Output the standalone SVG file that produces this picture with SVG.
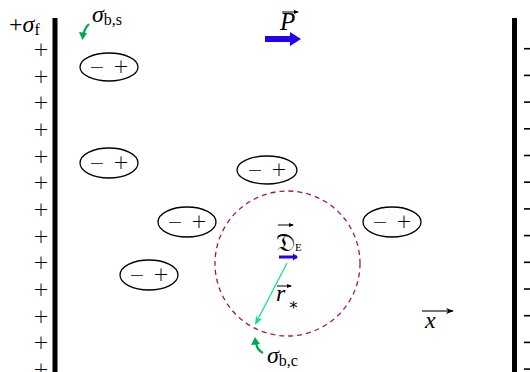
<svg xmlns="http://www.w3.org/2000/svg" width="530" height="372" viewBox="0 0 530 372">
<style>
.t{font-family:"Liberation Serif","DejaVu Serif",serif;fill:#000}
.it{font-style:italic}
.pm{font-family:"DejaVu Sans","Liberation Sans",sans-serif;font-weight:200;font-size:19px;text-anchor:middle}
.dip ellipse{fill:none;stroke:#000;stroke-width:1.3}
.dip text{font-family:"DejaVu Sans","Liberation Sans",sans-serif;font-weight:200;font-size:19px;text-anchor:middle}
</style>
<defs>
<marker id="ah" viewBox="0 0 10 10" refX="9" refY="5" markerWidth="8" markerHeight="8" markerUnits="userSpaceOnUse" orient="auto"><path d="M0,1 L10,5 L0,9 L3,5 Z" fill="#000"/></marker>
<marker id="ahg" viewBox="0 0 10 10" refX="9" refY="5" markerWidth="9" markerHeight="9" markerUnits="userSpaceOnUse" orient="auto"><path d="M0,1 L10,5 L0,9 L3,5 Z" fill="#00e676"/></marker>
<marker id="ahs" viewBox="0 0 10 10" refX="8" refY="5" markerWidth="5" markerHeight="5" markerUnits="userSpaceOnUse" orient="auto"><path d="M0,1 L10,5 L0,9 Z" fill="#000"/></marker>
</defs>

<g id="plate-left">
<rect x="52.5" y="18" width="5" height="354" fill="#000"/>
<text class="t" x="9" y="32" font-size="24">+<tspan class="it">σ</tspan><tspan font-size="16" dy="3">f</tspan></text>
<text class="pm" x="41" y="56">+</text>
<text class="pm" x="41" y="82.5">+</text>
<text class="pm" x="41" y="109">+</text>
<text class="pm" x="41" y="136">+</text>
<text class="pm" x="41" y="162.5">+</text>
<text class="pm" x="41" y="189">+</text>
<text class="pm" x="41" y="216">+</text>
<text class="pm" x="41" y="242.5">+</text>
<text class="pm" x="41" y="269">+</text>
<text class="pm" x="41" y="296">+</text>
<text class="pm" x="41" y="322.5">+</text>
<text class="pm" x="41" y="349">+</text>
<text class="pm" x="41" y="376">+</text>
</g>

<g id="plate-right">
<rect x="512" y="18" width="5" height="354" fill="#000"/>
<g stroke="#000" stroke-width="1.6">
<line x1="524" y1="48.7" x2="530" y2="48.7"/>
<line x1="524" y1="75.4" x2="530" y2="75.4"/>
<line x1="524" y1="102.1" x2="530" y2="102.1"/>
<line x1="524" y1="128.8" x2="530" y2="128.8"/>
<line x1="524" y1="155.5" x2="530" y2="155.5"/>
<line x1="524" y1="182.2" x2="530" y2="182.2"/>
<line x1="524" y1="208.9" x2="530" y2="208.9"/>
<line x1="524" y1="235.6" x2="530" y2="235.6"/>
<line x1="524" y1="262.3" x2="530" y2="262.3"/>
<line x1="524" y1="289" x2="530" y2="289"/>
<line x1="524" y1="315.7" x2="530" y2="315.7"/>
<line x1="524" y1="342.4" x2="530" y2="342.4"/>
<line x1="524" y1="369.1" x2="530" y2="369.1"/>
</g>
</g>

<g id="dipole1" class="dip"><ellipse cx="109" cy="67" rx="29" ry="14"/><text x="97" y="73">−</text><text x="121" y="73">+</text></g>
<g id="dipole2" class="dip"><ellipse cx="109" cy="163" rx="29" ry="15"/><text x="97" y="169">−</text><text x="121" y="169">+</text></g>
<g id="dipole3" class="dip"><ellipse cx="267" cy="170" rx="30" ry="14"/><text x="255" y="176">−</text><text x="279" y="176">+</text></g>
<g id="dipole4" class="dip"><ellipse cx="187" cy="222" rx="29" ry="15"/><text x="175" y="228">−</text><text x="199" y="228">+</text></g>
<g id="dipole5" class="dip"><ellipse cx="392" cy="222" rx="29" ry="15"/><text x="380" y="228">−</text><text x="404" y="228">+</text></g>
<g id="dipole6" class="dip"><ellipse cx="149" cy="275" rx="29" ry="15"/><text x="137" y="281">−</text><text x="161" y="281">+</text></g>

<g id="cavity">
<circle cx="287.5" cy="263.5" r="72.5" fill="none" stroke="#a3175a" stroke-width="1.3" stroke-dasharray="5,4"/>
</g>

<g id="P">
<path d="M265,36 H290 V32 L301,39 L290,46 V42 H265 Z" fill="#2200ee"/>
<text class="t it" x="280" y="30" font-size="25">P</text>
<line x1="282" y1="12" x2="298" y2="12" stroke="#000" stroke-width="1" marker-end="url(#ahs)"/>
</g>

<g id="DE">
<text class="t" x="276" y="251" font-size="26" font-family="'DejaVu Sans','Noto Sans',serif">𝔇<tspan font-size="11" dy="0">E</tspan></text>
<line x1="278" y1="225" x2="293" y2="225" stroke="#000" stroke-width="1" marker-end="url(#ahs)"/>
</g>

<g id="connectors">
<line x1="279" y1="257" x2="297" y2="257" stroke="#2200ee" stroke-width="3"/>
<path d="M293,253.5 L298,257 L293,260.5 Z" fill="#2200ee"/>
<line x1="287" y1="263" x2="255.5" y2="324" stroke="#00e676" stroke-width="1.2" marker-end="url(#ahg)"/>
<line x1="422" y1="311" x2="453" y2="311" stroke="#000" stroke-width="1.1" marker-end="url(#ah)"/>
<path d="M89,24 Q84,29 83,36" fill="none" stroke="#00a651" stroke-width="2.2"/>
<path d="M79,32 L82.5,40 L87,33 Z" fill="#00a651"/>
<path d="M263,353 Q257,350 256,343" fill="none" stroke="#00a651" stroke-width="2.2"/>
<path d="M251,345 L255,337 L260,344 Z" fill="#00a651"/>
</g>

<g id="labels">
<text class="t it" x="276" y="301" font-size="24">r</text>
<line x1="277" y1="286" x2="291" y2="286" stroke="#000" stroke-width="1" marker-end="url(#ahs)"/>
<text class="t" x="288" y="310" font-size="16">∗</text>
<text class="t it" x="425" y="328" font-size="24">x</text>
<text class="t" x="92" y="22" font-size="24"><tspan class="it">σ</tspan><tspan font-size="16" dy="3">b,s</tspan></text>
<text class="t" x="267" y="363" font-size="24"><tspan class="it">σ</tspan><tspan font-size="16" dy="3">b,c</tspan></text>
</g>
</svg>
